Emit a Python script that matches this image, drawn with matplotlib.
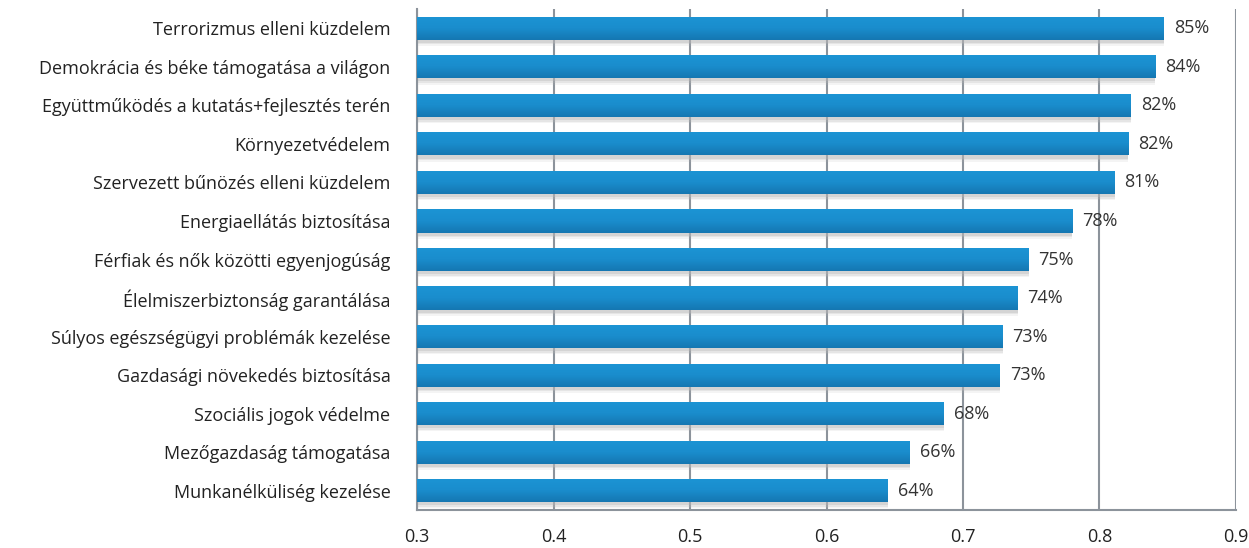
import matplotlib
matplotlib.use("Agg")
import matplotlib.pyplot as plt
import numpy as np
from matplotlib.colors import LinearSegmentedColormap

categories = [
    "Terrorizmus elleni küzdelem",
    "Demokrácia és béke támogatása a világon",
    "Együttműködés a kutatás+fejlesztés terén",
    "Környezetvédelem",
    "Szervezett bűnözés elleni küzdelem",
    "Energiaellátás biztosítása",
    "Férfiak és nők közötti egyenjogúság",
    "Élelmiszerbiztonság garantálása",
    "Súlyos egészségügyi problémák kezelése",
    "Gazdasági növekedés biztosítása",
    "Szociális jogok védelme",
    "Mezőgazdaság támogatása",
    "Munkanélküliség kezelése",
]
values = [0.847, 0.841, 0.823, 0.821, 0.811, 0.780, 0.748, 0.740, 0.729, 0.727, 0.686, 0.661, 0.645]
value_labels = ["85%", "84%", "82%", "82%", "81%", "78%", "75%", "74%", "73%", "73%", "68%", "66%", "64%"]
xticks = [0.3, 0.4, 0.5, 0.6, 0.7, 0.8, 0.9]

plt.rcParams['font.family'] = ['Open Sans', 'DejaVu Sans']

fig = plt.figure(figsize=(12.49, 5.48), dpi=100)
ax = fig.add_axes([417/1249, 1 - 510/548, (1236 - 417)/1249, (510 - 9)/548])

xmin = 0.3
ypos = np.arange(len(categories))
h = 0.6
grid_col = '#8c939b'

# shadows
for y, v in zip(ypos, values):
    for off, a in [(0.08, 0.35), (0.12, 0.25), (0.16, 0.15)]:
        ax.barh(y + off, v - xmin, left=xmin, height=h, color='#b8b8b8', alpha=a,
                zorder=1.5, linewidth=0)

bars = ax.barh(ypos, [v - xmin for v in values], left=xmin, height=h,
               color='#1a8bcb', zorder=3, linewidth=0)

cmap = LinearSegmentedColormap.from_list('g', ['#1c94d4', '#1a8dcd', '#1577b2'])
grad = np.linspace(0, 1, 64).reshape(-1, 1)
for b in bars:
    x0, y0 = b.get_x(), b.get_y()
    w, hh = b.get_width(), b.get_height()
    im = ax.imshow(grad, aspect='auto', cmap=cmap, extent=[x0, x0 + w, y0, y0 + hh],
                   origin='lower', zorder=3.5, interpolation='bilinear')
    im.set_clip_path(b)

for y, v, lab in zip(ypos, values, value_labels):
    ax.annotate(lab, (v, y), xytext=(10, 0), textcoords='offset pixels',
                va='center', ha='left', fontsize=13, color='#333333', zorder=5)

ax.set_xlim(0.3, 0.9)
ax.set_ylim(len(categories) - 0.5, -0.5)
ax.set_xticks(xticks)
ax.set_xticklabels([f"{t:.1f}" for t in xticks])
ax.set_yticks(ypos)
ax.set_yticklabels(categories)
ax.tick_params(axis='both', length=0, labelsize=13, colors='#222222')
ax.tick_params(axis='x', pad=13)
ax.tick_params(axis='y', pad=19)

ax.xaxis.grid(True, color=grid_col, linewidth=1.5, zorder=1)
ax.set_axisbelow(True)
for s in ['top', 'right']:
    ax.spines[s].set_visible(False)
for s in ['left', 'bottom']:
    ax.spines[s].set_color(grid_col)
    ax.spines[s].set_linewidth(1.5)

fig.savefig('out.png', dpi=100)
